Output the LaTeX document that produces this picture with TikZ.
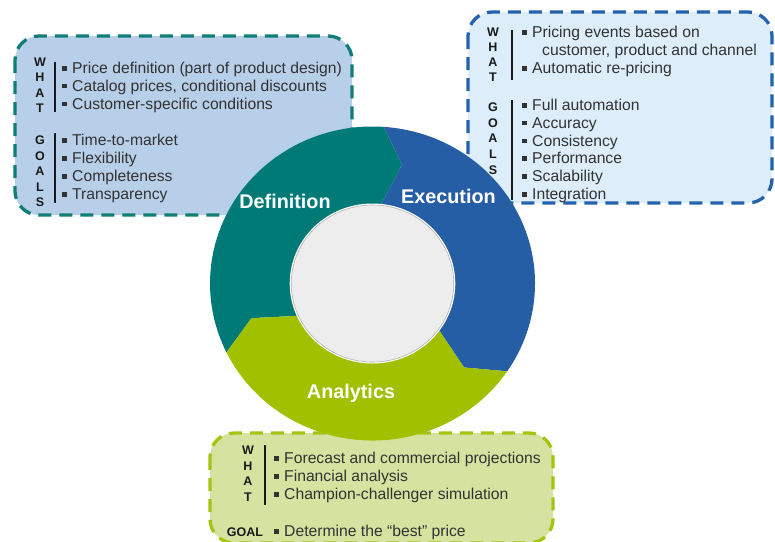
\documentclass[tikz,border=0pt]{standalone}
\usepackage{fontspec}
\setmainfont{Liberation Sans}
\definecolor{defcol}{RGB}{0,122,118}
\definecolor{execol}{RGB}{38,94,166}
\definecolor{anacol}{RGB}{160,192,0}
\definecolor{defbg}{RGB}{184,207,233}
\definecolor{defline}{RGB}{16,126,118}
\definecolor{exebg}{RGB}{221,238,250}
\definecolor{exeline}{RGB}{36,98,172}
\definecolor{anabg}{RGB}{214,227,160}
\definecolor{analine}{RGB}{164,196,18}
\definecolor{hubcol}{RGB}{237,237,237}
\definecolor{txt}{RGB}{50,50,50}
\definecolor{ltr}{RGB}{25,25,25}
\newcommand\bsq{\rule[3pt]{4.5pt}{4.5pt}\hspace{5.5pt}}
\begin{document}
\begin{tikzpicture}[x=1pt,y=-1pt,
  dashbox/.style={line width=3.3pt, dash pattern=on 13pt off 8pt, rounded corners=24pt},
  item/.style={anchor=base west, inner sep=0pt, font=\fontsize{15.7}{18}\selectfont, text=txt},
  letter/.style={anchor=base, inner sep=0pt, font=\fontsize{12.5}{14}\selectfont\bfseries, text=ltr},
  seglabel/.style={anchor=base, inner sep=0pt, text=white, font=\fontsize{19.8}{22}\selectfont\bfseries},
  bar/.style={line width=2pt, draw=ltr}]
\useasboundingbox (0,0) rectangle (775,541);

% information panels
\draw[dashbox, fill=defbg, draw=defline] (15,36) rectangle (352,215);
\draw[dashbox, fill=exebg, draw=exeline] (468,12) rectangle (772,203);
\draw[dashbox, fill=anabg, draw=analine] (210,433) rectangle (553,543);

% Definition panel
\foreach \l [count=\i from 0] in {W,H,A,T}
  \node[letter] (dw\i) at (40,66.5+15.3*\i) {\l};
\draw[bar] (55,62) -- (55,112);
\node[item] (d1) at (62,73.5) {\bsq Price definition (part of product design)};
\node[item] (d2) at (62,91.3) {\bsq Catalog prices, conditional discounts};
\node[item] (d3) at (62,109) {\bsq Customer-specific conditions};
\foreach \l [count=\i from 0] in {G,O,A,L,S}
  \node[letter] (dg\i) at (40,144.5+15.5*\i) {\l};
\draw[bar] (55,133) -- (55,203);
\node[item] (d4) at (62,145.5) {\bsq Time-to-market};
\node[item] (d5) at (62,163.5) {\bsq Flexibility};
\node[item] (d6) at (62,181.5) {\bsq Completeness};
\node[item] (d7) at (62,199.5) {\bsq Transparency};

% Execution panel
\foreach \l [count=\i from 0] in {W,H,A,T}
  \node[letter] (ew\i) at (493,36.5+15*\i) {\l};
\draw[bar] (512,30) -- (512,80);
\node[item] (e1) at (522,37.5) {\bsq Pricing events based on};
\node[item] (e2) at (542,55.5) {customer, product and channel};
\node[item] (e3) at (522,73.5) {\bsq Automatic re-pricing};
\foreach \l [count=\i from 0] in {G,O,A,L,S}
  \node[letter] (eg\i) at (493,111.5+15.7*\i) {\l};
\draw[bar] (512,100) -- (512,200);
\node[item] (e4) at (522,110.5) {\bsq Full automation};
\node[item] (e5) at (522,128.3) {\bsq Accuracy};
\node[item] (e6) at (522,146.1) {\bsq Consistency};
\node[item] (e7) at (522,163.9) {\bsq Performance};
\node[item] (e8) at (522,181.7) {\bsq Scalability};
\node[item] (e9) at (522,199.5) {\bsq Integration};

% Analytics panel
\foreach \l [count=\i from 0] in {W,H,A,T}
  \node[letter] (aw\i) at (248,454.5+15.5*\i) {\l};
\draw[bar] (265,445) -- (265,505);
\node[item] (a1) at (274,463.5) {\bsq Forecast and commercial projections};
\node[item] (a2) at (274,481.5) {\bsq Financial analysis};
\node[item] (a3) at (274,499.5) {\bsq Champion-challenger simulation};
\node[letter] (ag) at (245,536.5) {GOAL};
\node[item] (a4) at (274,536.5) {\bsq Determine the “best” price};

% cycle ring: three chevron segments around a hub
\begin{scope}[shift={(372.5,283.5)}, xscale=1.035, yscale=-1]
  \fill[defcol] (86:157) arc[start angle=86, end angle=206, radius=157]
    -- (196.5:122) -- (204:79.5) arc[start angle=204, end angle=84, radius=79.5]
    -- (76.5:122) -- cycle;
  \fill[execol] (86:157) arc[start angle=86, end angle=-34, radius=157]
    -- (-43.5:122) -- (-36:79.5) arc[start angle=-36, end angle=84, radius=79.5]
    -- (76.5:122) -- cycle;
  \fill[anacol] (206:157) arc[start angle=206, end angle=326, radius=157]
    -- (316.5:122) -- (324:79.5) arc[start angle=324, end angle=204, radius=79.5]
    -- (196.5:122) -- cycle;
  \fill[white] (0,0) circle[radius=80];
  \draw[fill=hubcol, draw=gray!60, line width=0.6pt] (0,0) circle[radius=78.5];
\end{scope}

\node[seglabel] (ldef) at (285,208.8) {Definition};
\node[seglabel] (lexe) at (448.4,203) {Execution};
\node[seglabel] (lana) at (351,398.8) {Analytics};
\end{tikzpicture}
\end{document}
